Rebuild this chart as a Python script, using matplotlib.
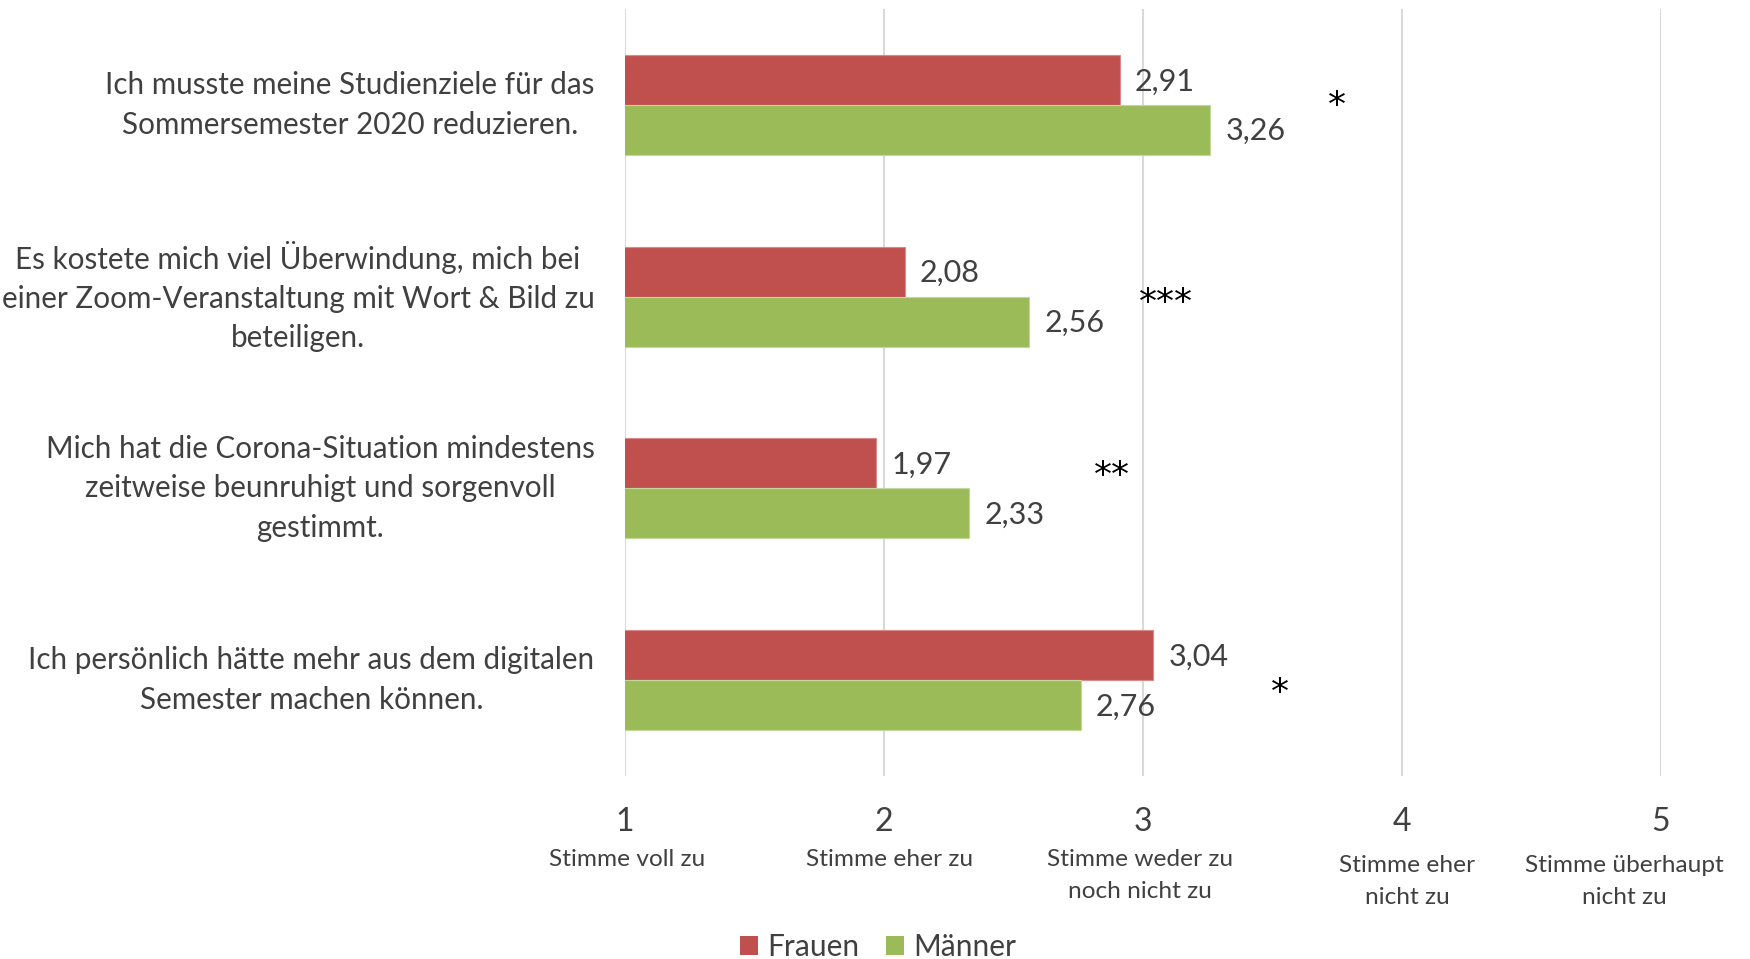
import matplotlib
matplotlib.use("Agg")
import matplotlib.pyplot as plt
import matplotlib.transforms as mtransforms
from matplotlib.patches import Patch
import numpy as np

plt.rcParams['font.family'] = ['Lato', 'DejaVu Sans']

categories = [
    "Ich musste meine Studienziele für das\nSommersemester 2020 reduzieren.",
    "Es kostete mich viel Überwindung, mich bei\neiner Zoom-Veranstaltung mit Wort & Bild zu\nbeteiligen.",
    "Mich hat die Corona-Situation mindestens\nzeitweise beunruhigt und sorgenvoll\ngestimmt.",
    "Ich persönlich hätte mehr aus dem digitalen\nSemester machen können.",
]
frauen = [2.91, 2.08, 1.97, 3.04]
maenner = [3.26, 2.56, 2.33, 2.76]
significance = ["*", "***", "**", "*"]
tick_values = [1, 2, 3, 4, 5]
tick_texts = ["Stimme voll zu", "Stimme eher zu", "Stimme weder zu\nnoch nicht zu",
              "Stimme eher\nnicht zu", "Stimme überhaupt\nnicht zu"]
series_names = ["Frauen", "Männer"]

RED = "#C0504D"
GREEN = "#9BBB59"
TXT = "#404040"
GRID = "#D9D9D9"

fig = plt.figure(figsize=(17.5, 9.59), dpi=100)
ax = fig.add_axes([625/1750, 1-776/959, (1661-625)/1750, (776-9)/959])

y = np.arange(len(categories))
h = 50/192
ax.barh(y - h/2, frauen, height=h, color=RED, edgecolor="#D98A88", linewidth=0.8, zorder=3)
ax.barh(y + h/2, maenner, height=h, color=GREEN, edgecolor="#C3D69B", linewidth=0.8, zorder=3)

for yi, v in zip(y - h/2, frauen):
    ax.annotate(f"{v:.2f}".replace(".", ","), (v, yi), xytext=(11, -1), textcoords="offset points",
                ha="left", va="center", fontsize=22, color=TXT)
for yi, v in zip(y + h/2, maenner):
    ax.annotate(f"{v:.2f}".replace(".", ","), (v, yi), xytext=(11, -1), textcoords="offset points",
                ha="left", va="center", fontsize=22, color=TXT)

# significance stars (glyph-centre positions)
star_x = [3.75, 3.09, 2.88, 3.53]
star_y = [-0.02, 1.005, 1.91, 3.04]
star_fs = 26
for sx, sy, s in zip(star_x, star_y, significance):
    ax.annotate(s, (sx, sy), xytext=(0, -0.54*star_fs + 3), textcoords="offset points",
                ha="center", va="baseline", fontsize=star_fs, color="black",
                family="DejaVu Sans")

ax.set_xlim(1, 5)
ax.set_ylim(3.5, -0.5)
ax.set_xticks(tick_values)
ax.set_xticklabels([str(t) for t in tick_values], fontsize=23, color=TXT)
ax.tick_params(axis="x", length=0, pad=22)
ax.set_yticks(y)
ax.set_yticklabels(categories, fontsize=21.3, color=TXT, multialignment="center",
                   linespacing=1.49, va="center")
ax.tick_params(axis="y", length=0, pad=22)
ax.grid(axis="x", color=GRID, linewidth=1.5, zorder=0)
ax.set_axisbelow(True)
for sp in ax.spines.values():
    sp.set_visible(False)

trans = mtransforms.blended_transform_factory(ax.transData, fig.transFigure)
sub_x = [1.01, 2.02, 2.99, 4.02, 4.86]
sub_y = [1-849/959, 1-849/959, 1-849/959, 1-855/959, 1-855/959]
for sx, sy, t in zip(sub_x, sub_y, tick_texts):
    ax.text(sx, sy, t, transform=trans, ha="center", va="top", fontsize=17.6, color=TXT,
            linespacing=1.62, clip_on=False)

handles = [Patch(facecolor=RED), Patch(facecolor=GREEN)]
fig.legend(handles, series_names, loc="center", bbox_to_anchor=(878/1750, 1-947/959), ncol=2,
           frameon=False, fontsize=21.5, handlelength=0.6, handleheight=0.6, handletextpad=0.3,
           columnspacing=0.9, labelcolor=TXT)

fig.savefig("out.png", dpi=100)
